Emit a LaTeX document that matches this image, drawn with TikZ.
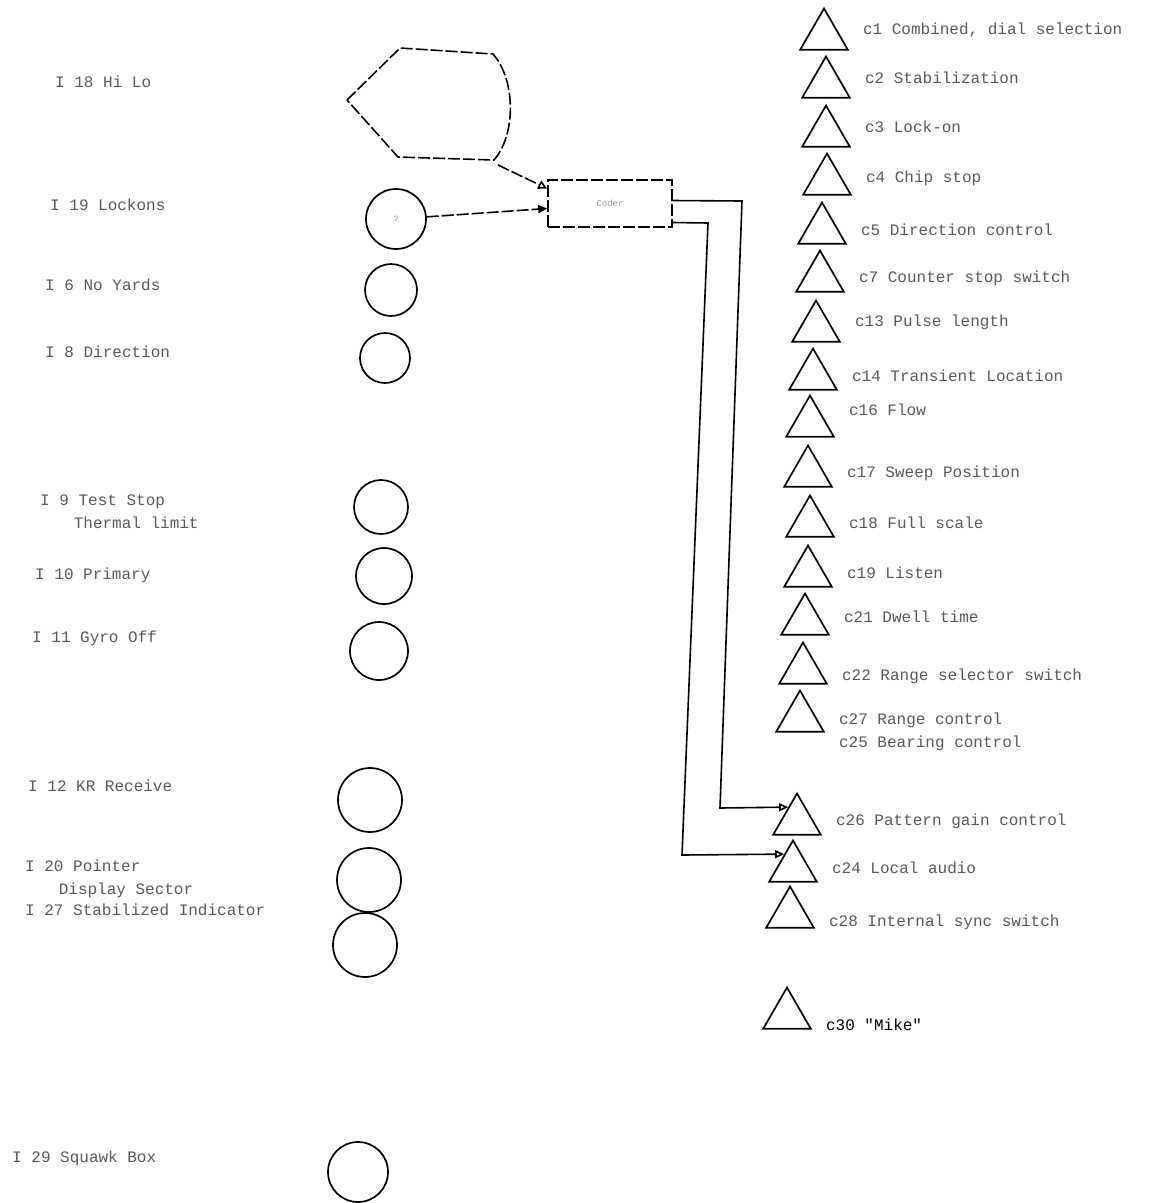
\documentclass[tikz,border=0pt]{standalone}
\usepackage{fontspec}
\setmonofont{Liberation Mono}
\usepackage{tikz}
\usetikzlibrary{positioning,arrows.meta,shapes.geometric,calc}

\begin{document}
\begin{tikzpicture}[x=1pt,y=-1pt,
    lamp/.style={circle, draw, line width=1.7pt, inner sep=0pt, minimum size=58pt},
    ind/.style={regular polygon, regular polygon sides=3, draw, line width=1.7pt, inner sep=0pt, minimum size=55pt},
    txt/.style={font=\ttfamily\fontsize{16}{23}\selectfont, text=black!65, inner sep=0pt, anchor=west, align=left},
    rough/.style={line width=1.6pt, dash pattern=on 12pt off 3pt},
    wire/.style={line width=1.6pt}]
    \useasboundingbox (0,0) rectangle (1161,1203);

    % indicator lamps
    \node[txt] (t18) at (55,82) {I 18 Hi Lo};
    \node[txt] (t19) at (50,205) {I 19 Lockons};
    \node[txt] (t6) at (45,285) {I 6 No Yards};
    \node[txt] (t8) at (45,352) {I 8 Direction};
    \node[txt, anchor=north west] (t9) at (40,495) {I 9 Test Stop\\\hspace*{2.1em}Thermal limit};
    \node[txt] (t10) at (35,575) {I 10 Primary};
    \node[txt] (t11) at (32,638) {I 11 Gyro Off};
    \node[txt] (t12) at (28,786) {I 12 KR Receive};
    \node[txt, anchor=north west] (t20) at (25,860) {I 20 Pointer\\\hspace*{2.1em}Display Sector};
    \node[txt] (t27) at (25,910) {I 27 Stabilized Indicator};
    \node[txt] (t29) at (12,1158) {I 29 Squawk Box};

    \node[lamp, minimum size=60pt] (l19) at (396,219) {\ttfamily\footnotesize\color{black!45}?};
    \node[lamp, minimum size=52pt] (l6) at (391,290) {};
    \node[lamp, minimum size=50pt] (l8) at (385,358) {};
    \node[lamp, minimum size=54pt] (l9) at (381,507) {};
    \node[lamp, minimum size=56pt] (l10) at (384,576) {};
    \node[lamp] (l11) at (379,651) {};
    \node[lamp, minimum size=64pt] (l12) at (370,800) {};
    \node[lamp, minimum size=64pt] (l20) at (369,880) {};
    \node[lamp, minimum size=64pt] (l27) at (365,945) {};
    \node[lamp, minimum size=60pt] (l29) at (358,1172) {};

    % scope outline and unit
    \draw[rough] (347,100) -- (400,48) -- (493,54) .. controls (516,80) and (516,135) .. (494,160) -- (398,157) -- cycle;
    \coordinate (hood) at (498,165);
    \node[draw, rough, minimum width=124pt, minimum height=47pt, font=\ttfamily\small, text=black!40] (unit) at (610,203.5) {Coder};

    \draw[rough, -{Triangle[open, length=9pt, width=9pt]}] (hood) -- ([yshift=15pt]unit.west);
    \draw[rough, -{Triangle[length=9pt, width=8pt]}] (l19) -- ([yshift=-5pt]unit.west);

    % controls
    \node[ind] (c1) at (824,36) {};
    \node[ind] (c2) at (826,84) {};
    \node[ind] (c3) at (826,133) {};
    \node[ind] (c4) at (827,181) {};
    \node[ind] (c5) at (822,230) {};
    \node[ind] (c7) at (820,278) {};
    \node[ind] (c13) at (816,328) {};
    \node[ind] (c14) at (813,376) {};
    \node[ind] (c16) at (810,423) {};
    \node[ind] (c17) at (808,473) {};
    \node[ind] (c18) at (810,523) {};
    \node[ind] (c19) at (808,573) {};
    \node[ind] (c21) at (805,621) {};
    \node[ind] (c22) at (803,670) {};
    \node[ind] (c27) at (800,718) {};
    \node[ind] (c26) at (797,821) {};
    \node[ind] (c24) at (793,868) {};
    \node[ind] (c28) at (790,914) {};
    \node[ind] (c30) at (787,1015) {};

    \node[txt, right=22pt of c1, yshift=6pt] {c1 Combined, dial selection};
    \node[txt, right=22pt of c2, yshift=6pt] {c2 Stabilization};
    \node[txt, right=22pt of c3, yshift=6pt] {c3 Lock-on};
    \node[txt, right=22pt of c4, yshift=3pt] {c4 Chip stop};
    \node[txt, right=22pt of c5] {c5 Direction control};
    \node[txt, right=22pt of c7] {c7 Counter stop switch};
    \node[txt, right=22pt of c13, yshift=6pt] {c13 Pulse length};
    \node[txt, right=22pt of c14] {c14 Transient Location};
    \node[txt, right=22pt of c16, yshift=13pt] {c16 Flow};
    \node[txt, right=22pt of c17] {c17 Sweep Position};
    \node[txt, right=22pt of c18] {c18 Full scale};
    \node[txt, right=22pt of c19] {c19 Listen};
    \node[txt, right=22pt of c21, yshift=4pt] {c21 Dwell time};
    \node[txt, right=22pt of c22, yshift=-6pt] {c22 Range selector switch};
    \node[txt, right=22pt of c27, yshift=-14pt] {c27 Range control\\c25 Bearing control};
    \node[txt, right=22pt of c26] {c26 Pattern gain control};
    \node[txt, right=22pt of c24] {c24 Local audio};
    \node[txt, right=22pt of c28, yshift=-8pt] {c28 Internal sync switch};
    \node[txt, right=22pt of c30, yshift=-10pt, text=black] {c30 "Mike"};

    \draw[wire, -{Triangle[open, length=9pt, width=8pt]}] ([yshift=3pt]unit.east) -- (742,201) -- (720,808) -- ($(c26.corner 1)!.35!(c26.corner 2)$);
    \draw[wire, -{Triangle[open, length=9pt, width=8pt]}] ([yshift=-19pt]unit.east) -- (708,223) -- (682,855) -- ($(c24.corner 1)!.35!(c24.corner 2)$);
\end{tikzpicture}
\end{document}
